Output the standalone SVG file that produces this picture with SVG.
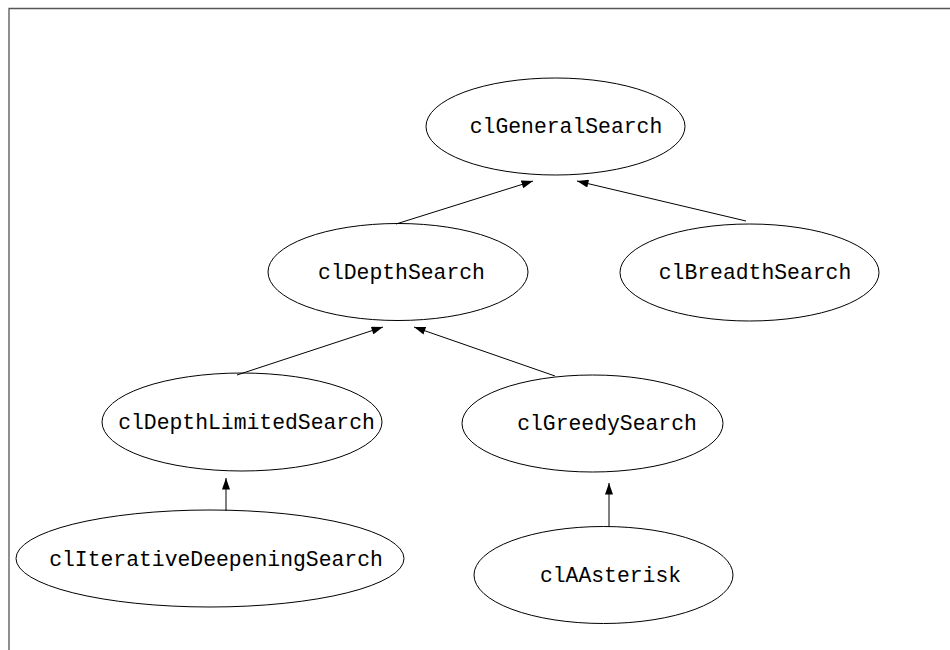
<svg xmlns="http://www.w3.org/2000/svg" width="950" height="650" viewBox="0 0 950 650">
<style>
.node ellipse{fill:none;stroke:#000;stroke-width:1}
.node text{font-family:"Liberation Mono","Courier New",monospace;font-size:21.4px;fill:#000;text-anchor:middle}
.edge line{stroke:#000;stroke-width:1;marker-end:url(#ah)}
</style>
<defs>
<marker id="ah" markerUnits="userSpaceOnUse" markerWidth="12" markerHeight="8" viewBox="0 0 10 7" refX="10" refY="3.5" orient="auto">
<path d="M0,0 L10,3.5 L0,7 Z" fill="#000"/>
</marker>
</defs>
<rect width="950" height="650" fill="#fff"/>
<path d="M9,650 V8.5 H950" fill="none" stroke="#555" stroke-width="1.3"/>
<g id="connectors" class="edge">
<line x1="396" y1="224" x2="533" y2="181"/>
<line x1="746" y1="221" x2="577" y2="181"/>
<line x1="237" y1="375" x2="383" y2="327"/>
<line x1="555" y1="376" x2="414" y2="327"/>
<line x1="226" y1="511" x2="226" y2="478"/>
<line x1="609" y1="527" x2="609" y2="483"/>
</g>
<g id="clGeneralSearch" class="node">
<ellipse cx="555.5" cy="126.5" rx="129.5" ry="48.5"/>
<text x="566" y="133">clGeneralSearch</text>
</g>
<g id="clDepthSearch" class="node">
<ellipse cx="398" cy="272" rx="130" ry="48.5"/>
<text x="401.5" y="278.5">clDepthSearch</text>
</g>
<g id="clBreadthSearch" class="node">
<ellipse cx="749.5" cy="272.5" rx="129.5" ry="48.5"/>
<text x="755" y="279">clBreadthSearch</text>
</g>
<g id="clDepthLimitedSearch" class="node">
<ellipse cx="242" cy="422" rx="140" ry="49"/>
<text x="246.5" y="428.5">clDepthLimitedSearch</text>
</g>
<g id="clGreedySearch" class="node">
<ellipse cx="592.5" cy="423.5" rx="130.5" ry="48.5"/>
<text x="607" y="430">clGreedySearch</text>
</g>
<g id="clIterativeDeepeningSearch" class="node">
<ellipse cx="210" cy="558.5" rx="194" ry="48.5"/>
<text x="216" y="565.5">clIterativeDeepeningSearch</text>
</g>
<g id="clAAsterisk" class="node">
<ellipse cx="603.5" cy="575" rx="129.5" ry="48.5"/>
<text x="610.5" y="581.5">clAAsterisk</text>
</g>
</svg>
